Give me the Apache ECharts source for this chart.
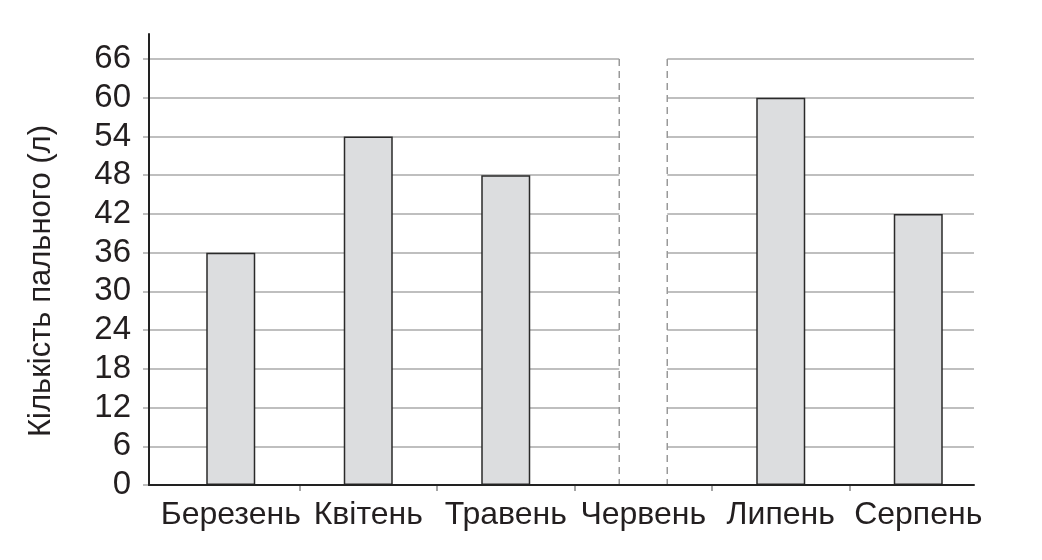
<!DOCTYPE html>
<html>
<head>
<meta charset="utf-8">
<script src="https://cdn.jsdelivr.net/npm/echarts@6/dist/echarts.min.js"></script>
<style>
html,body{margin:0;padding:0;background:#fff;}
#chart{width:1042px;height:560px;}
</style>
</head>
<body>
<div id="chart"></div>
<script>
const months = ['Березень', 'Квітень', 'Травень', 'Червень', 'Липень', 'Серпень'];
const fuel = [36, 54, 48, null, 60, 42];
const yMin = 0;
const yMax = 66;
const yStep = 6;
const axisTop = 70;
const yTitle = 'Кількість пального (л)';

const FONT = 'Liberation Sans, Arial, sans-serif';
const TXT = '#231f20';

const gapData = [];
fuel.forEach(function (v, i) { if (v == null) gapData.push([i, yMax]); });

const chart = echarts.init(document.getElementById('chart'), null, {renderer: 'canvas'});
chart.setOption({
  animation: false,
  backgroundColor: '#fff',
  grid: [
    {left: 149, right: 68, top: 34, bottom: 75, outerBoundsMode: 'none', containLabel: false},
    {left: 143, right: 68, top: 59, bottom: 75, outerBoundsMode: 'none', containLabel: false},
    {left: 162, width: 137.5 * (months.length + 1), top: 59, bottom: 75, outerBoundsMode: 'none', containLabel: false}
  ],
  xAxis: [
    {gridIndex: 0, type: 'value', min: 0, max: 1, z: 10,
      axisLine: {show: true, onZero: false, lineStyle: {color: '#222', width: 2}},
      axisTick: {show: false}, axisLabel: {show: false}, splitLine: {show: false}},
    {gridIndex: 1, type: 'value', min: 0, max: 1, show: false},
    {gridIndex: 2, type: 'category', data: months.concat(['']), boundaryGap: true,
      axisLine: {show: false},
      axisTick: {show: true, length: 6, interval: function (i) { return i > 0 && i < months.length; },
        lineStyle: {color: '#888', width: 1.5}},
      axisLabel: {interval: 0, margin: 14, fontSize: 32, color: TXT, fontFamily: FONT},
      splitLine: {show: false}}
  ],
  yAxis: [
    {gridIndex: 0, type: 'value', min: 0, max: axisTop, z: 10,
      axisLine: {show: true, onZero: false, lineStyle: {color: '#222', width: 2}},
      axisTick: {show: false}, axisLabel: {show: false}, splitLine: {show: false}},
    {gridIndex: 1, type: 'value', min: yMin, max: yMax, interval: yStep,
      name: yTitle, nameLocation: 'middle', nameGap: 86, nameRotate: 90,
      nameTextStyle: {fontSize: 31, color: TXT, fontFamily: FONT, padding: [0, 0, 0, -18]},
      axisLine: {show: false}, axisTick: {show: false},
      axisLabel: {margin: 12, fontSize: 33, color: TXT, fontFamily: FONT},
      splitLine: {show: true, lineStyle: {color: '#aaa', width: 1.5}}},
    {gridIndex: 2, type: 'value', min: yMin, max: yMax, show: false}
  ],
  series: [
    {type: 'bar', xAxisIndex: 2, yAxisIndex: 2, data: fuel, barWidth: 49,
      itemStyle: {color: '#dcdddf', borderColor: '#2a2a2a', borderWidth: 1.5}},
    {type: 'custom', xAxisIndex: 2, yAxisIndex: 2, data: gapData,
      renderItem: function (params, api) {
        const top = api.coord([api.value(0), api.value(1)]);
        const bot = api.coord([api.value(0), 0]);
        const w = 48;
        const l = top[0] - w / 2, r = top[0] + w / 2;
        return {type: 'group', children: [
          {type: 'rect', shape: {x: l, y: top[1] - 2, width: w, height: bot[1] - top[1] + 1}, style: {fill: '#fff'}},
          {type: 'line', shape: {x1: l, y1: top[1], x2: l, y2: bot[1]}, style: {stroke: '#999', lineWidth: 1.5, lineDash: [7, 5]}},
          {type: 'line', shape: {x1: r, y1: top[1], x2: r, y2: bot[1]}, style: {stroke: '#999', lineWidth: 1.5, lineDash: [7, 5]}}
        ]};
      }}
  ]
});
</script>
</body>
</html>
